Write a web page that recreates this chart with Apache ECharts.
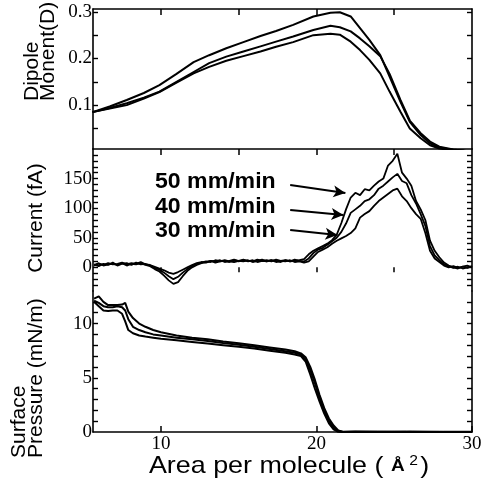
<!DOCTYPE html>
<html>
<head>
<meta charset="utf-8">
<script src="https://cdn.jsdelivr.net/npm/echarts@6/dist/echarts.min.js"></script>
<style>html,body{margin:0;padding:0;background:#fff;}#c{width:489px;height:481px;}</style>
</head>
<body>
<div id="c"></div>
<script>
// ---------- data ----------
const dipoleX = [5.6, 6.7, 7.8, 8.9, 9.9, 11.0, 12.1, 13.1, 14.2, 15.3, 16.4, 17.4, 18.5, 19.8, 20.9, 21.5, 22.2, 22.8, 23.4, 24.1, 24.7, 25.4, 26.0, 26.7, 27.3, 27.9, 28.8, 29.5, 30];
const dipole50 = [0.085, 0.097, 0.111, 0.126, 0.143, 0.167, 0.192, 0.207, 0.222, 0.235, 0.248, 0.259, 0.272, 0.29, 0.298, 0.299, 0.29, 0.265, 0.24, 0.207, 0.161, 0.107, 0.064, 0.036, 0.018, 0.009, 0.004, 0.002, 0.001];
const dipole40 = [0.085, 0.094, 0.104, 0.116, 0.129, 0.15, 0.171, 0.19, 0.204, 0.215, 0.226, 0.236, 0.247, 0.261, 0.27, 0.267, 0.258, 0.243, 0.226, 0.205, 0.167, 0.111, 0.067, 0.04, 0.022, 0.011, 0.005, 0.002, 0.001];
const dipole30 = [0.085, 0.093, 0.1, 0.114, 0.128, 0.148, 0.168, 0.182, 0.195, 0.205, 0.215, 0.225, 0.235, 0.25, 0.253, 0.251, 0.236, 0.218, 0.197, 0.168, 0.129, 0.086, 0.05, 0.029, 0.014, 0.007, 0.003, 0.002, 0.001];

const currentX = [5.7, 6.0, 6.3, 6.6, 6.9, 7.2, 7.5, 7.8, 8.1, 8.4, 8.7, 9.0, 9.3, 9.6, 9.9, 10.2, 10.5, 10.8, 11.1, 11.4, 11.7, 12.0, 12.3, 12.6, 12.9, 13.2, 13.5, 13.8, 14.1, 14.4, 14.7, 15.0, 15.3, 15.6, 15.9, 16.2, 16.5, 16.8, 17.1, 17.4, 17.7, 18.0, 18.3, 18.6, 18.9, 19.2, 19.5, 19.8, 20.1, 20.4, 20.7, 21.0, 21.3, 21.6, 21.9, 22.2, 22.5, 22.8, 23.1, 23.4, 23.7, 24.0, 24.3, 24.6, 24.9, 25.2, 25.5, 25.8, 26.1, 26.4, 26.7, 27.0, 27.3, 27.6, 27.9, 28.2, 28.5, 28.8, 29.1, 29.4, 29.7, 30.0];
const current50 = [3, 6, 4, 7, 5, 6, 8, 5, 7, 6, 9, 5, 4, 1, -2, -5, -9, -11, -8, -4, 0, 4, 7, 9, 8, 11, 10, 12, 9, 11, 13, 10, 12, 11, 10, 13, 11, 12, 10, 13, 11, 12, 10, 11, 12, 14, 22, 28, 32, 36, 40, 46, 55, 75, 98, 118, 126, 122, 132, 130, 138, 145, 150, 172, 180, 192, 160, 150, 138, 112, 98, 80, 45, 28, 17, 8, 3, 0, -2, 1, -1, 2];
const current40 = [5, 2, 6, 4, 8, 3, 6, 7, 4, 8, 5, 6, 3, -1, -4, -9, -15, -20, -16, -9, -3, 2, 6, 8, 10, 9, 12, 10, 11, 9, 12, 11, 10, 12, 9, 11, 13, 10, 12, 11, 9, 12, 10, 13, 11, 10, 15, 24, 30, 33, 38, 44, 50, 60, 74, 92, 98, 104, 112, 115, 122, 133, 138, 145, 152, 158, 146, 142, 122, 108, 90, 70, 36, 20, 12, 5, 2, -1, 1, -2, 0, 1];
const current30 = [4, 7, 3, 5, 6, 4, 7, 3, 6, 5, 7, 4, 2, -3, -7, -14, -22, -28, -25, -15, -6, 0, 4, 7, 9, 11, 8, 10, 12, 10, 9, 11, 13, 10, 12, 9, 11, 10, 12, 9, 11, 10, 12, 9, 10, 8, 10, 18, 26, 30, 34, 40, 45, 49, 53, 58, 66, 84, 90, 95, 104, 112, 118, 124, 130, 133, 120, 112, 100, 90, 82, 58, 28, 15, 9, 3, 0, 2, -1, 1, 3, 0];

const pressX = [5.7, 6.0, 6.3, 6.6, 6.9, 7.2, 7.5, 7.7, 7.9, 8.2, 8.6, 9.0, 9.5, 10.0, 11.0, 12.0, 13.0, 14.0, 15.0, 16.0, 17.0, 18.0, 18.6, 19.0, 19.3, 19.6, 19.9, 20.2, 20.5, 20.8, 21.1, 21.4, 21.7, 22.5, 24, 26, 28, 30];
const press50 = [12.3, 12.5, 12.0, 11.7, 11.7, 11.7, 11.75, 11.9, 11.1, 10.5, 10.0, 9.7, 9.4, 9.2, 8.9, 8.7, 8.55, 8.35, 8.18, 8.0, 7.8, 7.6, 7.45, 7.25, 6.9, 6.0, 4.8, 3.4, 2.2, 1.25, 0.6, 0.15, 0.02, 0.05, 0.0, 0.05, 0.0, 0.0];
const press40 = [12.1, 11.9, 11.6, 11.5, 11.5, 11.6, 11.5, 11.2, 10.4, 9.7, 9.4, 9.2, 9.0, 8.9, 8.7, 8.55, 8.4, 8.2, 8.05, 7.85, 7.65, 7.45, 7.3, 7.15, 6.7, 5.7, 4.5, 3.1, 1.95, 1.0, 0.4, 0.08, 0.0, 0.03, 0.02, 0.0, 0.03, 0.0];
const press30 = [12.0, 11.6, 11.2, 11.15, 11.2, 11.2, 10.9, 10.2, 9.4, 9.1, 8.9, 8.8, 8.7, 8.6, 8.45, 8.3, 8.15, 8.0, 7.85, 7.7, 7.5, 7.3, 7.15, 7.0, 6.5, 5.3, 4.0, 2.8, 1.7, 0.8, 0.25, 0.02, 0.0, 0.0, 0.03, 0.0, 0.0, 0.02];

// tick labels
const areaLabels = [10, 20, 30];
const areaMidTicks = [10, 15, 20, 25];
const dipoleTicks = [0.05, 0.1, 0.15, 0.2, 0.25, 0.3];
const dipoleLabels = [0.1, 0.2, 0.3];
const currentTicks = [-30, -20, -10, 0, 10, 20, 30, 40, 50, 60, 70, 80, 90, 100, 110, 120, 130, 140, 150, 160, 170, 180, 190];
const currentLabels = [0, 50, 100, 150];
const pressTicks = [1, 2, 3, 4, 5, 6, 7, 8, 9, 10, 11, 12];
const pressLabels = [0, 5, 10];
const speedLabels = ['50 mm/min', '40 mm/min', '30 mm/min'];

// ---------- chart ----------
const pairs = (xs, ys) => xs.map((x, i) => [x, ys[i]]);
const chart = echarts.init(document.getElementById('c'), null, {renderer: 'canvas'});
const BLACK = '#000';
const serif = "'Liberation Serif', 'DejaVu Serif', serif";
const sans = "'Liberation Sans', Arial, sans-serif";
const xMin = 5.63, xMax = 30;

function xAx(grid, opts) {
  return Object.assign({
    type: 'value', gridIndex: grid, min: xMin, max: xMax,
    axisLine: {show: true, lineStyle: {color: BLACK, width: 1.5}},
    axisTick: {show: true, inside: true, length: 6, lineStyle: {color: BLACK, width: 1.5}, customValues: areaMidTicks},
    axisLabel: {show: false},
    splitLine: {show: false}
  }, opts);
}
function yAx(grid, min, max, ticks, labels, pos) {
  const left = pos === 'left';
  return {
    type: 'value', gridIndex: grid, min: min, max: max, position: pos,
    axisLine: {show: true, lineStyle: {color: BLACK, width: 1.6}},
    axisTick: {show: true, inside: true, length: 5, lineStyle: {color: BLACK, width: 1.4}, customValues: ticks},
    axisLabel: left ? {show: true, customValues: labels, color: BLACK, fontFamily: serif, fontSize: 19, margin: 1} : {show: false},
    splitLine: {show: false}
  };
}
function line(name, xs, ys, xi, yi, w) {
  return {
    name: name, type: 'line', xAxisIndex: xi, yAxisIndex: yi,
    data: pairs(xs, ys), showSymbol: false, symbol: 'none', smooth: false,
    lineStyle: {color: BLACK, width: w}, silent: true
  };
}

const arrowLines = {
  silent: true, symbol: ['none', 'arrow'], symbolSize: [9, 12],
  lineStyle: {color: BLACK, width: 2, type: 'solid'}, label: {show: false},
  data: [
    [{coord: [18.31, 139]}, {coord: [21.86, 125.6]}],
    [{coord: [18.31, 96.8]}, {coord: [21.73, 88.4]}],
    [{coord: [18.31, 63]}, {coord: [21.34, 54.6]}]
  ]
};

const cur50 = line('50', currentX, current50, 2, 2, 1.8);
cur50.markLine = arrowLines;

const titleFont = "21px " + sans;
const option = {
  animation: false,
  backgroundColor: '#fff',
  grid: [
    {left: 93, width: 379, top: 9, height: 140},
    {left: 93, width: 379, top: 149, height: 142},
    {left: 93, width: 379, top: 291, height: 141}
  ],
  xAxis: [
    xAx(0, {position: 'bottom', axisTick: {show: true, inside: false, length: 6, lineStyle: {color: BLACK, width: 1.5}, customValues: areaMidTicks}}),
    xAx(0, {position: 'top'}),
    xAx(1, {position: 'bottom', axisLine: {show: false}, axisTick: {show: true, inside: false, length: 5, lineStyle: {color: BLACK, width: 1.5}, customValues: areaMidTicks}}),
    xAx(2, {position: 'bottom', axisTick: {show: true, inside: true, length: 6, lineStyle: {color: BLACK, width: 1.5}, customValues: areaLabels},
      axisLabel: {show: true, customValues: areaLabels, color: BLACK, fontFamily: serif, fontSize: 19, margin: 3}})
  ],
  yAxis: [
    yAx(0, 0.006, 0.306, dipoleTicks, dipoleLabels, 'left'),
    yAx(0, 0.006, 0.306, dipoleTicks, dipoleLabels, 'right'),
    yAx(1, -40, 200, currentTicks, currentLabels, 'left'),
    yAx(1, -40, 200, currentTicks, currentLabels, 'right'),
    yAx(2, 0, 13, pressTicks, pressLabels, 'left'),
    yAx(2, 0, 13, pressTicks, pressLabels, 'right')
  ],
  series: [
    line('d50', dipoleX, dipole50, 0, 0, 2),
    line('d40', dipoleX, dipole40, 0, 0, 2),
    line('d30', dipoleX, dipole30, 0, 0, 2),
    cur50,
    line('40', currentX, current40, 2, 2, 1.8),
    line('30', currentX, current30, 2, 2, 1.8),
    line('p50', pressX, press50, 3, 4, 2),
    line('p40', pressX, press40, 3, 4, 2),
    line('p30', pressX, press30, 3, 4, 2)
  ],
  graphic: [
    {type: 'text', x: 40, y: 101, rotation: Math.PI / 2,
      style: {text: 'Dipole\nMonent(D)', fill: BLACK, font: titleFont, lineHeight: 16, align: 'left', verticalAlign: 'middle'}},
    {type: 'text', x: 36, y: 218, rotation: Math.PI / 2,
      style: {text: 'Current (fA)', fill: BLACK, font: titleFont, align: 'center', verticalAlign: 'middle'}},
    {type: 'text', x: 28, y: 458, rotation: Math.PI / 2,
      style: {text: 'Surface\nPressure (mN/m)', fill: BLACK, font: titleFont, lineHeight: 17, align: 'left', verticalAlign: 'middle'}},
    {type: 'text', x: 155, y: 182, scaleX: 1.05, style: {text: speedLabels[0], fill: BLACK, font: "bold 22px " + sans, align: 'left', verticalAlign: 'middle'}},
    {type: 'text', x: 155, y: 207, scaleX: 1.05, style: {text: speedLabels[1], fill: BLACK, font: "bold 22px " + sans, align: 'left', verticalAlign: 'middle'}},
    {type: 'text', x: 155, y: 231, scaleX: 1.05, style: {text: speedLabels[2], fill: BLACK, font: "bold 22px " + sans, align: 'left', verticalAlign: 'middle'}},
    {type: 'text', x: 289, y: 466, scaleX: 1.12,
      style: {text: '{a|Area per molecule ( }{b|Å}{s|2}{a|)}', align: 'center', verticalAlign: 'middle',
        rich: {
          a: {fill: BLACK, fontFamily: sans, fontSize: 24},
          b: {fill: BLACK, fontFamily: sans, fontSize: 17, fontWeight: 'bold', padding: [0, 4, 0, 0]},
          s: {fill: BLACK, fontFamily: sans, fontSize: 14, verticalAlign: 'top', padding: [0, 2, 8, 0]}
        }}}
  ]
};
chart.setOption(option);
</script>
</body>
</html>
